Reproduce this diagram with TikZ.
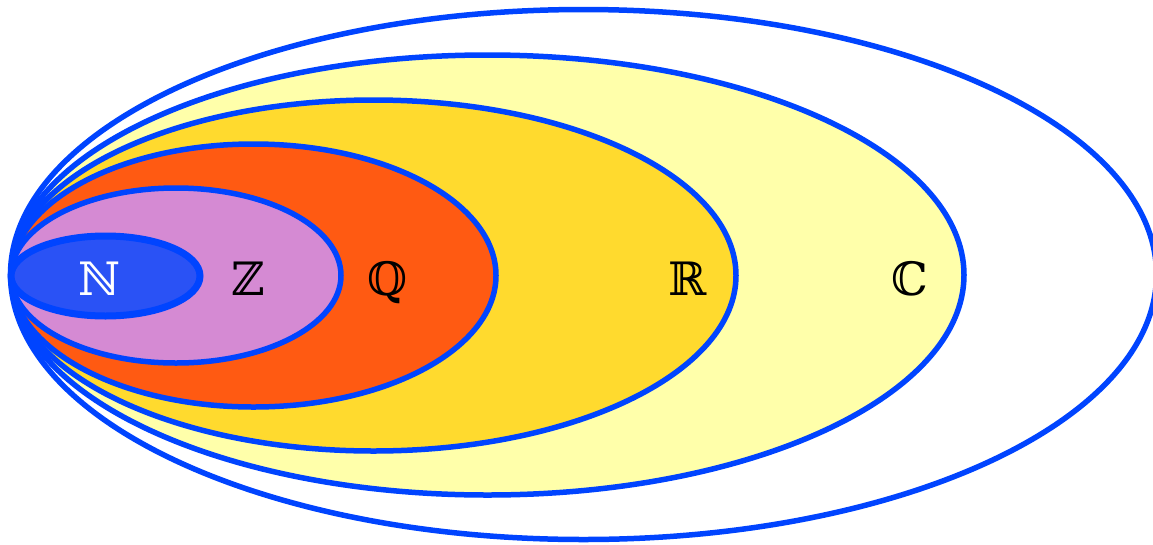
\documentclass[tikz,border=0pt]{standalone}
\usepackage{fontspec}
\newfontfamily\bbfont{DejaVu Serif}
\definecolor{edge}{RGB}{0,68,255}
\definecolor{cN}{RGB}{42,82,245}
\definecolor{cZ}{RGB}{213,138,211}
\definecolor{cQ}{RGB}{255,90,18}
\definecolor{cR}{RGB}{255,218,46}
\definecolor{cC}{RGB}{255,255,170}
\tikzset{set/.style={draw=edge,line width=5.5pt},
  lab/.style={font=\bbfont\fontsize{46}{46}\selectfont,inner sep=0pt,anchor=base}}
\begin{document}
\begin{tikzpicture}[x=1pt,y=-1pt]
\useasboundingbox (0,0) rectangle (1153,544);
\draw[set,fill=white] (583.5,274.5) ellipse [x radius=573,y radius=265];
\draw[set,fill=cC] (487.5,275) ellipse [x radius=476.5,y radius=220];
\draw[set,fill=cR] (373.5,275.5) ellipse [x radius=362.5,y radius=175.5];
\draw[set,fill=cQ] (253.5,275.5) ellipse [x radius=242.5,y radius=131.5];
\draw[set,fill=cZ] (176,275.5) ellipse [x radius=165,y radius=87.5];
\draw[set,line width=7pt,fill=cN] (105.5,276) ellipse [x radius=94.5,y radius=40];
\node[lab,text=white] (N) at (100,295) {ℕ};
\node[lab] (Z) at (248,295) {ℤ};
\node[lab] (Q) at (388,295) {ℚ};
\node[lab] (R) at (688,295) {ℝ};
\node[lab] (C) at (910,295) {ℂ};
\end{tikzpicture}
\end{document}
